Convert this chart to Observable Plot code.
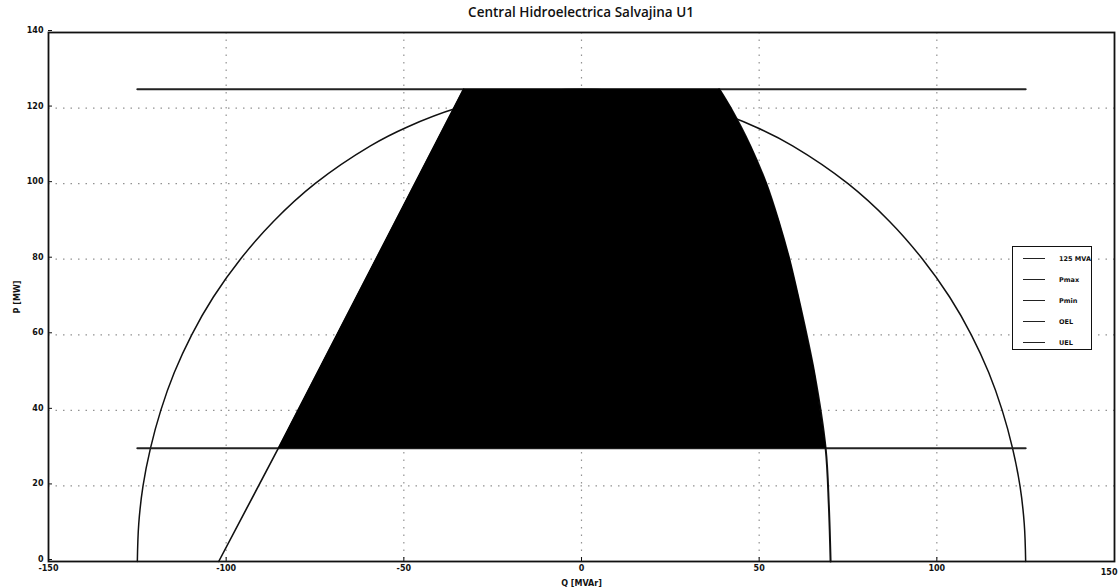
<!DOCTYPE html>
<html>
<head>
<meta charset="utf-8">
<script src="https://cdn.jsdelivr.net/npm/d3@7"></script>
<script src="https://cdn.jsdelivr.net/npm/@observablehq/plot@0.6"></script>
<style>
  html, body { margin: 0; padding: 0; background: #fff; }
  #wrap { position: relative; width: 1119px; height: 588px; overflow: hidden; }
  #title { height: 24px; line-height: 24px; padding-left: 43px; text-align: center;
           font-family: "Open Sans", sans-serif; font-weight: 600; font-size: 13.5px; color: #111; }
  #chart svg { display: block; }
  #legend { position: absolute; left: 1012px; top: 246px; width: 80px; height: 104px;
            border: 1.5px solid #111; background: #fff; box-sizing: border-box;
            font-family: "DejaVu Sans", sans-serif; font-weight: bold; font-size: 6.5px; color: #111; }
  .row { position: absolute; left: 0; height: 10px; width: 100%; }
  .row .ln { position: absolute; left: 10px; width: 22px; top: 4px; border-top: 1.6px solid #222; }
  .row .tx { position: absolute; left: 46px; top: 0; line-height: 10px; white-space: nowrap; }
</style>
</head>
<body>
<div id="wrap">
  <div id="title"></div>
  <div id="chart"></div>
  <div id="legend"></div>
</div>
<script>
// ---- data ----
const titleText = "Central Hidroelectrica Salvajina U1";
const xLabel = "Q [MVAr]";
const yLabel = "P [MW]";
const qTicks = [-150, -100, -50, 0, 50, 100, 150];
const pTicks = [0, 20, 40, 60, 80, 100, 120, 140];
const qGrid = [-100, -50, 0, 50, 100];
const pGrid = [20, 40, 60, 80, 100, 120];

// 125 MVA capability circle (Q, P)
const circleQ = [-125, -124.6, -123.4, -121.3, -118.4, -114.6, -109.7, -103.6, -96, -86.7, -75, -59.4, -49, -35, -18, 0, 18, 35, 49, 59.4, 75, 86.7, 96, 103.6, 109.7, 114.6, 118.4, 121.3, 123.4, 124.6, 125];
const circleP = [0, 10, 20, 30, 40, 50, 60, 70, 80, 90, 100, 110, 115, 120, 123.7, 125, 123.7, 120, 115, 110, 100, 90, 80, 70, 60, 50, 40, 30, 20, 10, 0];

// Pmax and Pmin limits
const pmaxQ = [-125, 125];
const pmaxP = [125, 125];
const pminQ = [-125, 125];
const pminP = [30, 30];

// under-excitation limit (straight line)
const uelQ = [-102.1, -85.3, -33.2];
const uelP = [0, 30, 125];

// over-excitation limit (curve)
const oelQ = [70.1, 69.6, 68.7, 65.5, 61, 58.5, 55.5, 52, 47.5, 42, 38.8];
const oelP = [0, 15, 30, 50, 70, 80, 90, 100, 110, 120, 125];

const legendLabels = ["125 MVA", "Pmax", "Pmin", "OEL", "UEL"];

// ---- build tables ----
const zip = (qs, ps) => qs.map((q, i) => ({q, p: ps[i]}));
const circle = zip(circleQ, circleP);
const pmax = zip(pmaxQ, pmaxP);
const pmin = zip(pminQ, pminP);
const uel = zip(uelQ, uelP);
const oel = zip(oelQ, oelP);
// operating region polygon: UEL from Pmin to Pmax, then OEL back down to Pmin
const region = [
  ...uel.filter(d => d.p >= 30),
  ...oel.filter(d => d.p >= 30).slice().reverse()
];
const qMax = d3.max(qTicks);
const qTicksInner = qTicks.filter(t => t !== qMax);

document.getElementById("title").textContent = titleText;

const chart = Plot.plot({
  width: 1119,
  height: 564,
  marginTop: 8,
  marginBottom: 27,
  marginLeft: 48,
  marginRight: 5,
  style: {fontFamily: "DejaVu Sans, sans-serif", fontSize: "8px", fontWeight: "bold", color: "#111", background: "#fff"},
  x: {domain: [-150, 150]},
  y: {domain: [0, 140]},
  marks: [
    Plot.ruleY(pGrid, {stroke: "#777", strokeDasharray: "1.5,6", strokeWidth: 1.2, strokeOpacity: 0.8}),
    Plot.ruleX(qGrid, {stroke: "#777", strokeDasharray: "1.5,6", strokeWidth: 1.2, strokeOpacity: 0.8}),
    Plot.line(circle, {x: "q", y: "p", curve: "catmull-rom", stroke: "#111", strokeWidth: 1.5}),
    Plot.line(pmax, {x: "q", y: "p", stroke: "#222", strokeWidth: 2}),
    Plot.line(pmin, {x: "q", y: "p", stroke: "#222", strokeWidth: 2}),
    Plot.line(uel, {x: "q", y: "p", stroke: "#111", strokeWidth: 1.6}),
    Plot.line(oel, {x: "q", y: "p", curve: "catmull-rom", stroke: "#111", strokeWidth: 2}),
    Plot.line(region, {x: "q", y: "p", fill: "#000", stroke: "#000", strokeWidth: 1}),
    Plot.axisX({ticks: qTicksInner, tickSize: -4, tickPadding: 8, label: xLabel, labelArrow: "none", labelAnchor: "center", labelOffset: 24, tickFormat: d => String(d)}),
    Plot.axisX({ticks: [qMax], tickSize: 0, tickPadding: 8, label: null, textAnchor: "end", dx: 3, tickFormat: d => String(d)}),
    Plot.axisY({ticks: pTicks, tickSize: -4, tickPadding: 9, dy: -2, label: yLabel, labelArrow: "none", labelAnchor: "center", labelOffset: 34, tickFormat: d => String(d)}),
    Plot.frame({stroke: "#111", strokeWidth: 1.8})
  ]
});
document.getElementById("chart").appendChild(chart);

// legend
const leg = document.getElementById("legend");
legendLabels.forEach((lab, i) => {
  const row = document.createElement("div");
  row.className = "row";
  row.style.top = (7 + i * 21) + "px";
  const ln = document.createElement("span"); ln.className = "ln";
  const tx = document.createElement("span"); tx.className = "tx"; tx.textContent = lab;
  row.appendChild(ln); row.appendChild(tx);
  leg.appendChild(row);
});
</script>
</body>
</html>
